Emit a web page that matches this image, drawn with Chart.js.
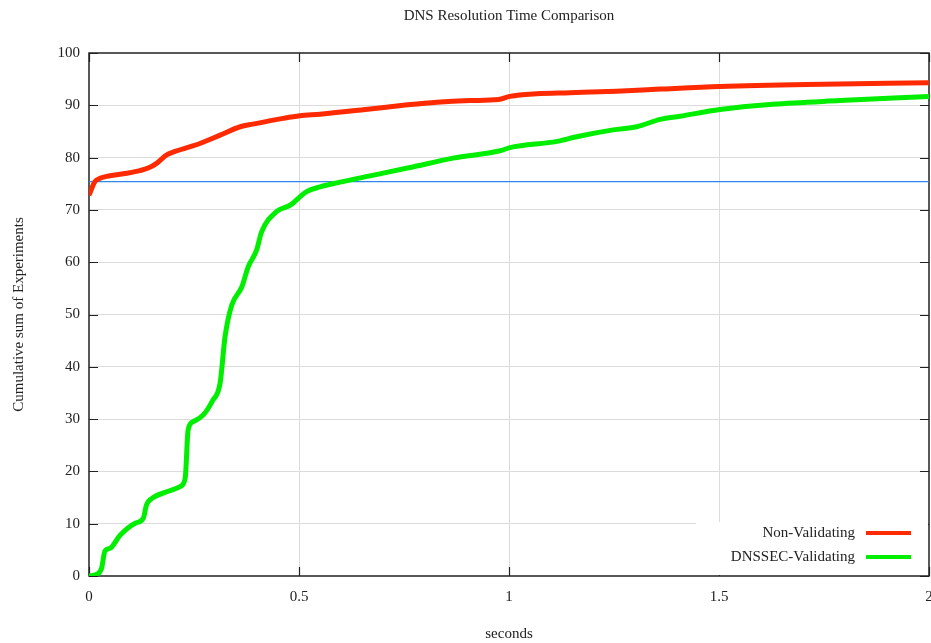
<!DOCTYPE html>
<html>
<head>
<meta charset="utf-8">
<title>DNS Resolution Time Comparison</title>
<script src="https://cdn.jsdelivr.net/npm/chart.js@4.4.1/dist/chart.umd.min.js"></script>
<style>
  html, body { margin: 0; padding: 0; background: #fff; }
  #wrap { width: 931px; height: 643px; }
</style>
</head>
<body>
<div id="wrap"><canvas id="dnsChart" width="931" height="643"></canvas></div>
<script>
// valores (segundos / % acumulada)
const nonValTimes = [0, 0.014, 0.025, 0.042, 0.09, 0.121, 0.141, 0.161, 0.185, 0.217, 0.264, 0.312, 0.36, 0.39, 0.462, 0.502, 0.55, 0.669, 0.748, 0.828, 0.907, 0.975, 1.002, 1.066, 1.145, 1.256, 1.36, 1.502, 1.709, 2.0];
const nonValPct = [72.8, 75.4, 76.0, 76.4, 77.0, 77.5, 78.0, 78.9, 80.5, 81.5, 82.7, 84.3, 85.9, 86.4, 87.5, 88.0, 88.3, 89.3, 90.0, 90.6, 90.9, 91.1, 91.7, 92.2, 92.4, 92.7, 93.1, 93.6, 94.0, 94.3];

const dnssecTimes = [0, 0.018, 0.03, 0.038, 0.05, 0.074, 0.11, 0.129, 0.137, 0.153, 0.185, 0.217, 0.229, 0.236, 0.248, 0.272, 0.294, 0.312, 0.324, 0.34, 0.364, 0.379, 0.399, 0.411, 0.447, 0.479, 0.518, 0.55, 0.598, 0.669, 0.764, 0.867, 0.979, 1.002, 1.114, 1.161, 1.248, 1.304, 1.36, 1.407, 1.502, 1.629, 1.788, 2.0];
const dnssecPct = [0.0, 0.3, 1.5, 4.8, 5.3, 7.8, 10.1, 11.0, 13.6, 15.0, 16.1, 17.1, 18.7, 27.9, 29.5, 30.8, 33.5, 36.8, 45.8, 51.8, 55.3, 59.1, 62.3, 65.8, 69.7, 70.9, 73.5, 74.4, 75.3, 76.5, 78.1, 79.9, 81.3, 81.9, 83.1, 84.0, 85.3, 85.9, 87.3, 87.9, 89.2, 90.2, 90.9, 91.7];

// linha de referência horizontal
const refLineTimes = [0, 2];
const refLineLevel = 75.4;

const xTicks = [0, 0.5, 1, 1.5, 2];
const yTicks = [0, 10, 20, 30, 40, 50, 60, 70, 80, 90, 100];

const FONT = "'Liberation Serif', 'DejaVu Serif', serif";
const TEXT = "#222";

const toPoints = (xs, ys) => xs.map((x, i) => ({ x: x, y: ys[i] }));

// moldura + ticks para dentro (estilo gnuplot)
const frame = {
  id: "frame",
  beforeDatasetsDraw(chart) {
    const { ctx, chartArea: a, scales } = chart;
    const len = 9;
    ctx.save();
    ctx.strokeStyle = TEXT;
    ctx.lineWidth = 1.2;
    ctx.beginPath();
    xTicks.forEach((v) => {
      const px = Math.round(scales.x.getPixelForValue(v)) + 0.5;
      ctx.moveTo(px, a.bottom); ctx.lineTo(px, a.bottom - len);
      ctx.moveTo(px, a.top); ctx.lineTo(px, a.top + len);
    });
    yTicks.forEach((v) => {
      const py = Math.round(scales.y.getPixelForValue(v)) + 0.5;
      ctx.moveTo(a.left, py); ctx.lineTo(a.left + len, py);
      ctx.moveTo(a.right, py); ctx.lineTo(a.right - len, py);
    });
    ctx.stroke();
    ctx.lineWidth = 1.5;
    ctx.strokeRect(a.left, a.top, a.right - a.left, a.bottom - a.top);
    ctx.restore();
  },
};

// legenda dentro do gráfico, canto inferior direito
const insideLegend = {
  id: "insideLegend",
  afterDraw(chart) {
    const { ctx, chartArea: a } = chart;
    const items = chart.data.datasets.filter((d) => d.label);
    ctx.save();
    ctx.fillStyle = "#fff";
    ctx.fillRect(a.right - 233, a.bottom - 54, 232, 53);
    ctx.font = "15px " + FONT;
    ctx.textAlign = "right";
    ctx.textBaseline = "middle";
    items.forEach((d, i) => {
      const y = a.bottom - 43 + i * 24;
      ctx.fillStyle = TEXT;
      ctx.fillText(d.label, a.right - 74, y);
      ctx.strokeStyle = d.borderColor;
      ctx.lineWidth = 4;
      ctx.beginPath();
      ctx.moveTo(a.right - 63, y);
      ctx.lineTo(a.right - 18, y);
      ctx.stroke();
    });
    ctx.restore();
  },
};

const chartData = {
  datasets: [
    {
      label: "Non-Validating",
      data: toPoints(nonValTimes, nonValPct),
      borderColor: "#ff2a00",
      borderWidth: 5,
      cubicInterpolationMode: "monotone",
      pointRadius: 0,
      order: 1,
    },
    {
      label: "DNSSEC-Validating",
      data: toPoints(dnssecTimes, dnssecPct),
      borderColor: "#00ee00",
      borderWidth: 5,
      cubicInterpolationMode: "monotone",
      pointRadius: 0,
      order: 2,
    },
    {
      label: "",
      data: refLineTimes.map((x) => ({ x: x, y: refLineLevel })),
      borderColor: "#2f86ec",
      borderWidth: 1.4,
      pointRadius: 0,
      order: 3,
    },
  ],
};

const config = {
  type: "line",
  data: chartData,
  plugins: [frame, insideLegend],
  options: {
    responsive: false,
    animation: false,
    layout: { padding: { left: 0, right: 2, top: 0, bottom: 0 } },
    plugins: {
      legend: { display: false },
      tooltip: { enabled: false },
      title: {
        display: true,
        fullSize: false,
        text: "DNS Resolution Time Comparison",
        color: TEXT,
        font: { family: FONT, size: 15, weight: "normal" },
        padding: { top: 7, bottom: 28 },
      },
    },
    scales: {
      x: {
        type: "linear",
        min: 0,
        max: 2,
        afterBuildTicks: (s) => { s.ticks = xTicks.map((v) => ({ value: v })); },
        afterFit: (s) => { s.height = 67; s.paddingLeft = 0; s.paddingRight = 0; },
        ticks: {
          color: TEXT,
          font: { family: FONT, size: 15 },
          padding: 12,
          maxRotation: 0,
          autoSkip: false,
          callback: (v) => String(v),
        },
        grid: {
          drawTicks: false,
          color: (c) => (c.tick && (c.tick.value === 0 || c.tick.value === 2) ? "rgba(0,0,0,0)" : "#dcdcdc"),
          lineWidth: 1,
        },
        border: { display: false },
        title: {
          display: true,
          text: "seconds",
          color: TEXT,
          font: { family: FONT, size: 15 },
          padding: { top: 0, bottom: 0 },
        },
      },
      y: {
        type: "linear",
        min: 0,
        max: 100,
        afterBuildTicks: (s) => { s.ticks = yTicks.map((v) => ({ value: v })); },
        afterFit: (s) => { s.width = 89; s.paddingTop = 0; s.paddingBottom = 0; },
        ticks: { color: TEXT, font: { family: FONT, size: 15 }, padding: 9, callback: (v) => String(v) },
        grid: {
          drawTicks: false,
          color: (c) => (c.tick && (c.tick.value === 0 || c.tick.value === 100) ? "rgba(0,0,0,0)" : "#dcdcdc"),
          lineWidth: 1,
        },
        border: { display: false },
        title: {
          display: true,
          text: "Cumulative sum of Experiments",
          color: TEXT,
          font: { family: FONT, size: 15 },
          padding: { top: 10, bottom: 0 },
        },
      },
    },
  },
};

const ctx = document.getElementById("dnsChart");
if (ctx) new Chart(ctx, config);
</script>
</body>
</html>
